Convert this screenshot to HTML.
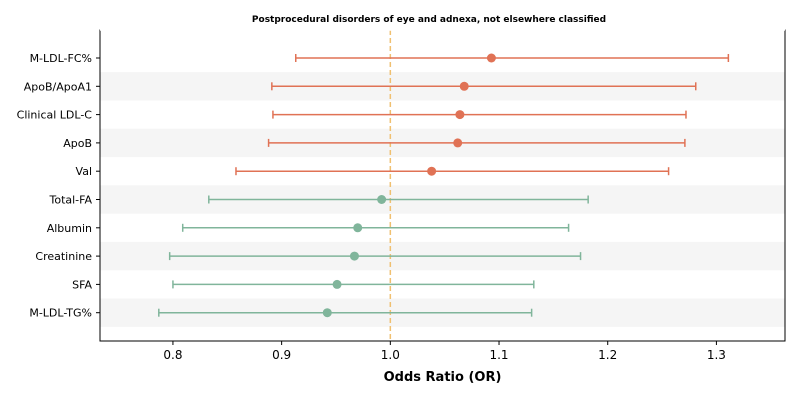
<!DOCTYPE html>
<html><head><meta charset="utf-8"><style>
body{margin:0;background:#fff;}
svg{display:block;font-family:"DejaVu Sans","Liberation Sans",sans-serif;}
</style></head><body>
<svg id="c" width="800" height="400"></svg>
<script>
const labels=["M-LDL-FC%","ApoB/ApoA1","Clinical LDL-C","ApoB","Val","Total-FA","Albumin","Creatinine","SFA","M-LDL-TG%"];
const orVals=[1.093,1.068,1.064,1.062,1.038,0.992,0.970,0.967,0.951,0.942];
const lowCI=[0.913,0.891,0.892,0.888,0.858,0.833,0.809,0.797,0.800,0.787];
const highCI=[1.311,1.281,1.272,1.271,1.256,1.182,1.164,1.175,1.132,1.130];
const xTicks=[0.8,0.9,1.0,1.1,1.2,1.3];
const xTickLabels=["0.8","0.9","1.0","1.1","1.2","1.3"];
const NS="http://www.w3.org/2000/svg";
const svg=document.getElementById('c');
const L=100,R=785,T=30,B=341;
const x0=0.7329,x1=1.3631;
const X=v=>L+(v-x0)/(x1-x0)*(R-L);
const step=28.3,y0=58;
const Y=i=>y0+i*step;
function mk(t,a,p){const e=document.createElementNS(NS,t);for(const k in a)e.setAttribute(k,a[k]);(p||svg).appendChild(e);return e;}
labels.forEach((l,i)=>{if(i%2==1){const r=mk('rect',{x:L,y:Y(i)-step/2,width:R-L,height:step,fill:'#f5f5f5'});

}});
const ref=mk('line',{x1:X(1),x2:X(1),y1:T,y2:B,stroke:'#f0c070','stroke-width':1.5,'stroke-dasharray':'5,3'});


labels.forEach((l,i)=>{
 const col=orVals[i]>=1?'#e07255':'#80b59b';
 const g=mk('g',{});
 
 
 const y=Y(i);
 mk('line',{x1:X(lowCI[i]),x2:X(highCI[i]),y1:y,y2:y,stroke:col,'stroke-width':1.5},g);
 mk('line',{x1:X(lowCI[i]),x2:X(lowCI[i]),y1:y-4,y2:y+4,stroke:col,'stroke-width':1.5},g);
 mk('line',{x1:X(highCI[i]),x2:X(highCI[i]),y1:y-4,y2:y+4,stroke:col,'stroke-width':1.5},g);
 mk('circle',{cx:X(orVals[i]),cy:y,r:4.5,fill:col},g);
 const t=mk('text',{x:L-8,y:y+4,'text-anchor':'end','font-size':11,fill:'#000'});t.textContent=l;
 
 
 mk('line',{x1:L-4,x2:L,y1:y,y2:y,stroke:'#000'});
});
const fr=mk('rect',{x:L,y:T,width:R-L,height:B-T,fill:'none',stroke:'#000','stroke-width':1});


mk('line',{x1:L,x2:R,y1:T,y2:T,stroke:'#fff','stroke-width':1.5});
xTicks.forEach((v,i)=>{mk('line',{x1:X(v),x2:X(v),y1:B,y2:B+4,stroke:'#000'});
 const t=mk('text',{x:X(v),y:B+18,'text-anchor':'middle','font-size':12});t.textContent=xTickLabels[i];
 
 });
const xt=mk('text',{x:(L+R)/2,y:381,'text-anchor':'middle','font-size':13,'font-weight':'bold'});xt.textContent='Odds Ratio (OR)';


const tt=mk('text',{x:429,y:22,'text-anchor':'middle','font-size':9,'font-weight':'bold'});tt.textContent='Postprocedural disorders of eye and adnexa, not elsewhere classified';


</script>
</body></html>
